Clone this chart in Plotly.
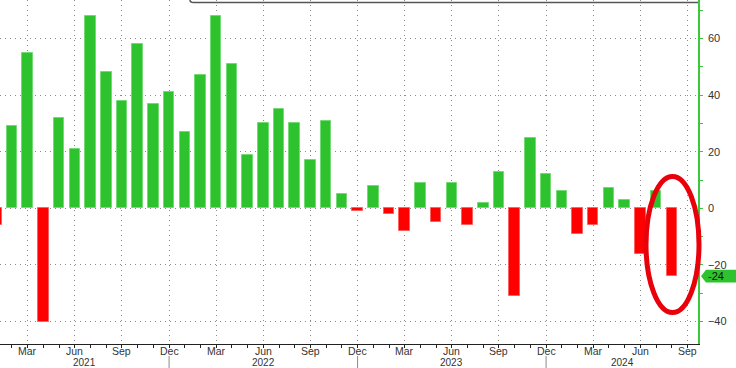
import plotly.graph_objects as go

# ---- data ----
months = [f"{m} {y}" for y in (2021, 2022, 2023, 2024)
          for m in ["Jan", "Feb", "Mar", "Apr", "May", "Jun", "Jul", "Aug", "Sep", "Oct", "Nov", "Dec"]][:44]
values = [-6, 29, 55, -40, 32, 21, 68, 48, 38, 58, 37, 41,
          27, 47, 68, 51, 19, 30, 35, 30, 17, 31, 5, -1,
          8, -2, -8, 9, -5, 9, -6, 2, 13, -31, 25, 12,
          6, -9, -6, 7, 3, -16, 6, -24]
tick_month_names = ["Mar", "Jun", "Sep", "Dec"]
years = ["2021", "2022", "2023", "2024"]
y_ticks = [-40, -20, 0, 20, 40, 60]

GREEN = "#2ec22e"
GREEN_EDGE = "#74da74"
RED = "#ff0000"
RED_EDGE = "#ff6060"
AXIS_GREEN = "#3cc83c"
GRID = "#8c8c8c"

x = list(range(len(values)))
x_min, x_max = 0.237, 44.67
y_min, y_max = -47.95, 73.6

all_month_names = ["Jan", "Feb", "Mar", "Apr", "May", "Jun", "Jul", "Aug", "Sep", "Oct", "Nov", "Dec"]
tickvals, ticktext = [], []
for i in range(0, 45):
    name = all_month_names[i % 12]
    if name in tick_month_names:
        tickvals.append(i)
        ticktext.append(name)

colors = [GREEN if v >= 0 else RED for v in values]
edges = [GREEN_EDGE if v >= 0 else RED_EDGE for v in values]

fig = go.Figure()
fig.add_trace(go.Bar(
    x=x, y=values, width=0.67,
    marker=dict(color=colors, line=dict(color=edges, width=1)),
    hovertext=months, hoverinfo="text+y",
))

# green triangle tick markers on right axis
fig.add_trace(go.Scatter(
    x=[x_max + 0.22] * len(y_ticks), y=y_ticks, mode="markers",
    marker=dict(symbol="triangle-right", size=7, color=AXIS_GREEN),
    cliponaxis=False, hoverinfo="skip", showlegend=False,
))

font = dict(family="Liberation Sans, Arial, sans-serif", size=11, color="#333333")
month_font = dict(family="Liberation Sans, Arial, sans-serif", size=10.5, color="#333333")
year_font = dict(family="Liberation Sans, Arial, sans-serif", size=10, color="#333333")

fig.update_layout(
    width=736, height=368,
    margin=dict(l=0, r=38, t=0, b=24),
    paper_bgcolor="white", plot_bgcolor="white",
    showlegend=False, font=font, bargap=0,
    xaxis=dict(
        range=[x_min, x_max], tickvals=tickvals, showticklabels=False,
        showline=True, linecolor="#222222", linewidth=1,
        ticks="outside", ticklen=3, tickcolor="#222222",
        showgrid=True, gridcolor=GRID, griddash="1px,4px", gridwidth=1,
        zeroline=False,
        minor=dict(dtick=1, tick0=0, ticks="outside", ticklen=3, tickcolor="#222222", showgrid=False),
    ),
    yaxis=dict(
        range=[y_min, y_max], side="right", tickvals=y_ticks,
        showline=True, linecolor=AXIS_GREEN, linewidth=1.5,
        ticks="outside", ticklen=6, tickcolor="rgba(0,0,0,0)",
        showgrid=True, gridcolor=GRID, griddash="1px,4px", gridwidth=1,
        zeroline=False,
        minor=dict(dtick=10, tick0=0, ticks="outside", ticklen=3, tickcolor=AXIS_GREEN, showgrid=False),
        tickfont=font,
    ),
)

# month labels
for tv, tt in zip(tickvals, ticktext):
    fig.add_annotation(x=tv, y=1 - 351.2 / 344, xref="x", yref="paper", text=tt,
                       showarrow=False, font=month_font, yanchor="middle", xanchor="center",
                       borderpad=0)

# year labels and separators
seps = [11, 23, 35]
bounds = [x_min] + seps + [x_max]
for k, yr in enumerate(years):
    fig.add_annotation(x=(bounds[k] + bounds[k + 1]) / 2, y=1 - 362.3 / 344, xref="x", yref="paper",
                       text=yr, showarrow=False, font=year_font, yanchor="middle", borderpad=0)
for s in seps:
    fig.add_shape(type="line", x0=s, x1=s, y0=1 - 356 / 344, y1=1 - 370 / 344, xref="x", yref="paper",
                  line=dict(color="#8a8a8a", width=1))

# top cut-off box border
fig.add_shape(type="path", xref="paper", yref="paper",
              path="M 0.2722,1.0 Q 0.2722,0.9927 0.2775,0.9927 L 1,0.9927",
              line=dict(color="#555555", width=1.5))

# last value label box
last = values[-1]
fig.add_shape(type="path", xref="paper", yref="y",
              path=f"M 1.0043,{last} L 1.0115,{last + 2.25} L 1.06,{last + 2.25} L 1.06,{last - 2.25} L 1.0115,{last - 2.25} Z",
              fillcolor=GREEN, line=dict(width=0))
fig.add_annotation(x=1.0115, y=last, xref="paper", yref="y", text=str(last), showarrow=False,
                   xanchor="left", yanchor="middle", font=dict(family=font["family"], size=11, color="#111111"))

# red highlight ellipse
fig.add_shape(type="circle", xref="paper", yref="paper",
              x0=646 / 698, x1=699 / 698, y0=1 - 312.5 / 344, y1=1 - 176.5 / 344,
              line=dict(color="#e8000a", width=5))

fig.write_html("out.html")
